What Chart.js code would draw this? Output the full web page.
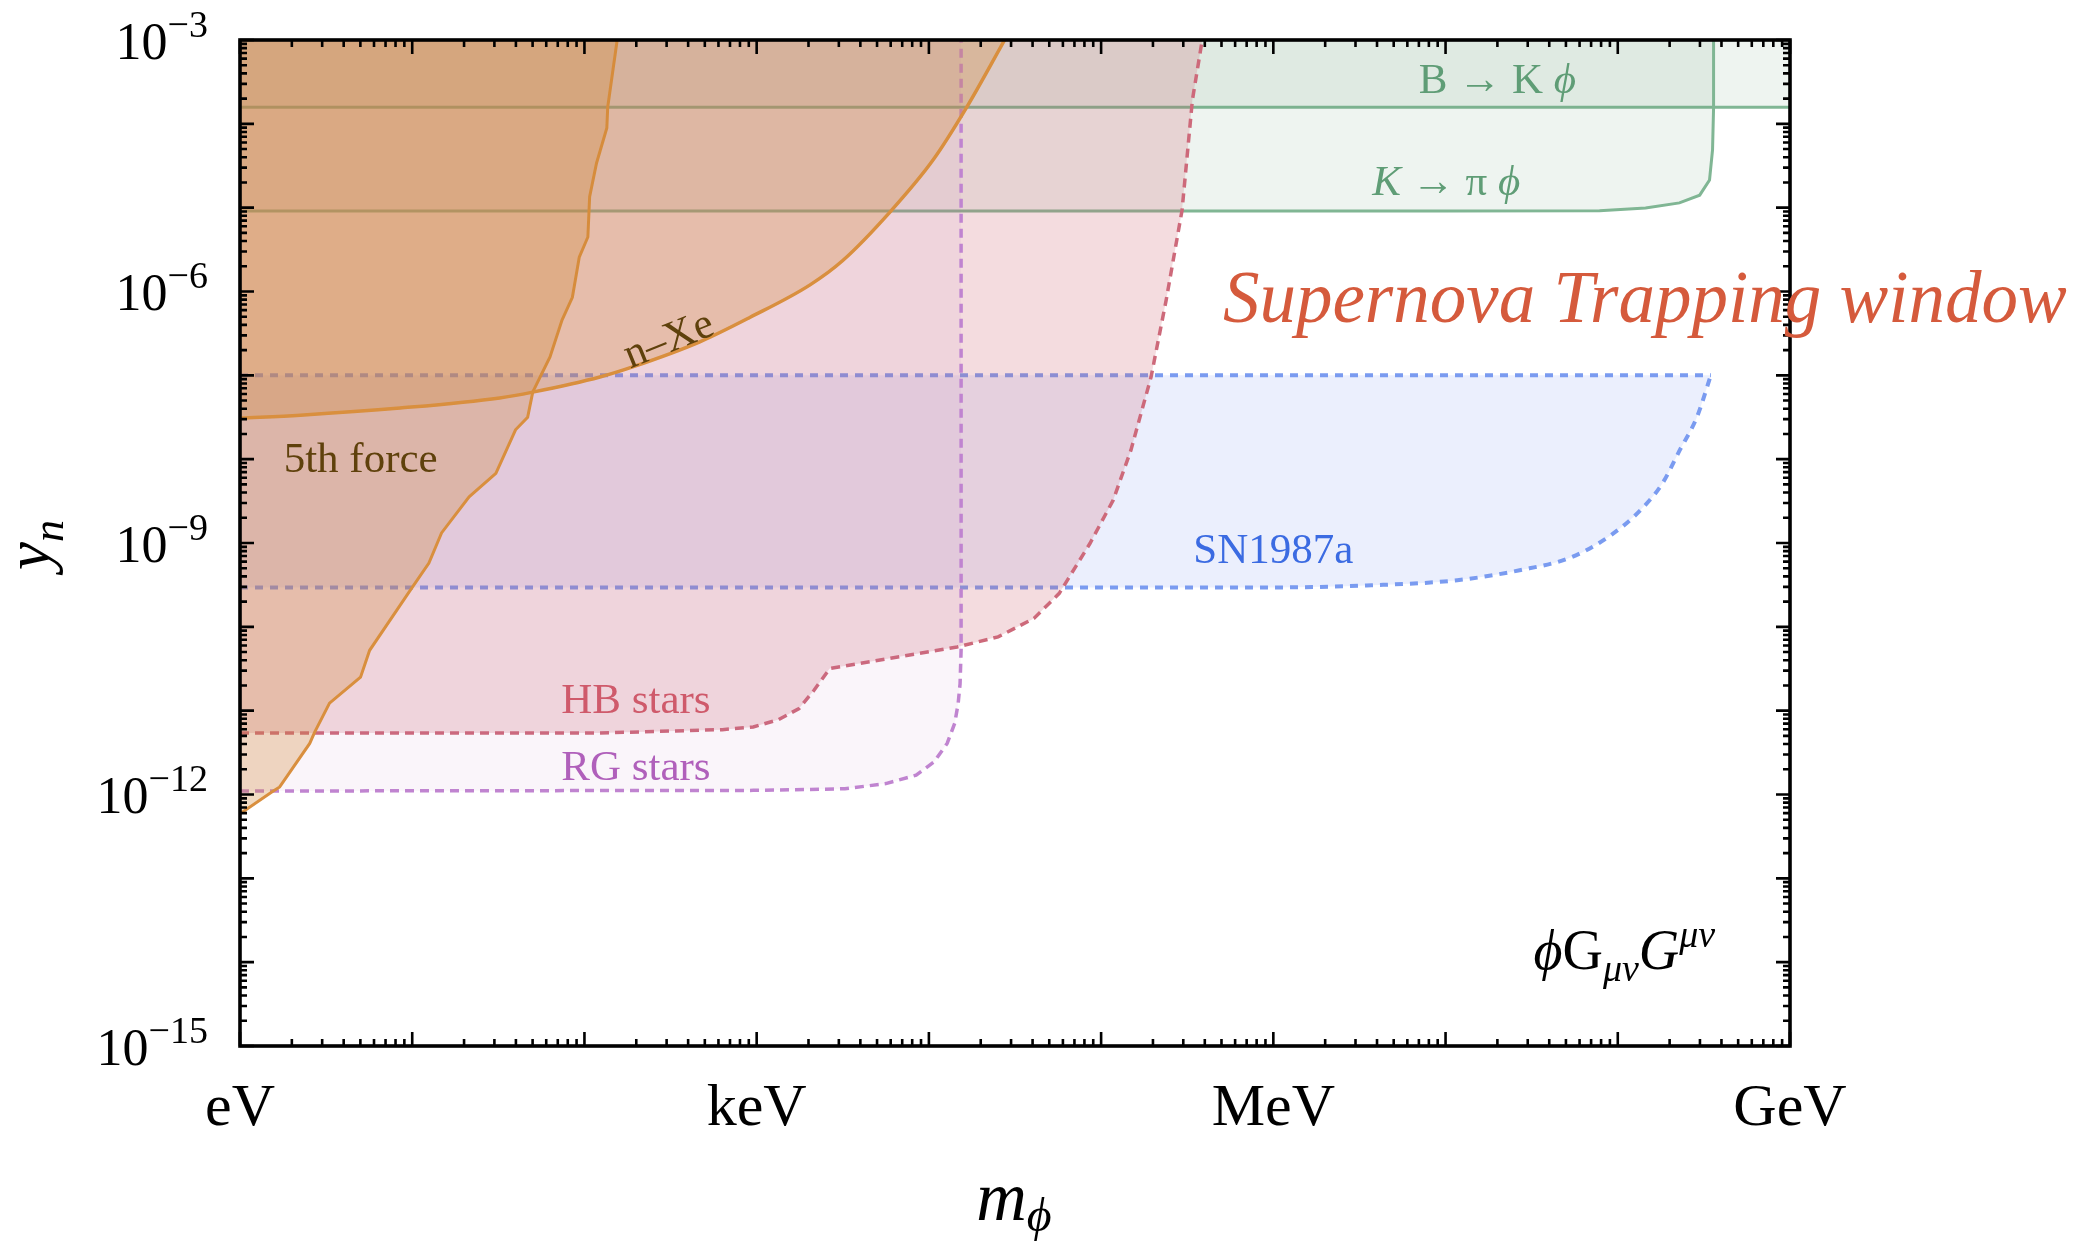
<!DOCTYPE html>
<html><head><meta charset="utf-8">
<script src="https://cdn.jsdelivr.net/npm/chart.js@4.4.1/dist/chart.umd.min.js"></script>
<style>html,body{margin:0;padding:0;background:#fff;}#wrap{width:2094px;height:1241px;position:relative;}</style>
</head><body><div id="wrap"><canvas id="c"></canvas></div>
<script>
// ---------- data (mass in eV, coupling y_n) ----------
const massRange = [1, 1e9];
const couplingRange = [1e-15, 1e-3];
const xTickValues = [1, 1e3, 1e6, 1e9];
const xTickLabels = ['eV', 'keV', 'MeV', 'GeV'];
const yTickValues = [1e-3, 1e-6, 1e-9, 1e-12, 1e-15];
const yTickLabels = ['\u22123', '\u22126', '\u22129', '\u221212', '\u221215'];

const fifthForceMass = [1, 1.53, 1.70, 2.54, 2.71, 3.31, 5.01, 5.66, 10.0, 12.5, 14.8, 21.4, 30.6, 39.8, 46.8, 50.1, 63.1, 74.1, 85.1, 93.3, 104.7, 107.2, 117.5, 134.9, 136.5, 154.9];
const fifthForceY = [5.9e-13, 1.07e-12, 1.23e-12, 4.07e-12, 5.5e-12, 1.23e-11, 2.51e-11, 5.25e-11, 2.95e-10, 5.75e-10, 1.32e-9, 3.55e-9, 6.76e-9, 2.24e-8, 3.16e-8, 6.31e-8, 1.66e-7, 4.57e-7, 8.51e-7, 2.57e-6, 4.47e-6, 1.35e-5, 3.39e-5, 8.91e-5, 1.58e-4, 1e-3];

const nXeMass = [1, 2.24, 8.51, 32.2, 50.1, 123, 190.5, 467.7, 912, 2042, 3162, 5957, 10593, 16596, 27542];
const nXeY = [3.09e-8, 3.35e-8, 4.07e-8, 5.37e-8, 6.31e-8, 9.55e-8, 1.26e-7, 2.51e-7, 4.90e-7, 1.20e-6, 2.34e-6, 8.91e-6, 3.72e-5, 1.58e-4, 1e-3];

const hbMass = [1, 123, 631, 955, 1340, 1762, 2153, 2655, 14588, 25235, 40738, 57148, 86099, 117490, 148936, 194984, 238781, 295121, 338844, 386367];
const hbY = [5.42e-12, 5.42e-12, 5.94e-12, 6.38e-12, 7.83e-12, 1.06e-11, 1.75e-11, 3.18e-11, 5.75e-11, 7.59e-11, 1.26e-10, 2.51e-10, 9.86e-10, 3.24e-9, 1.28e-8, 9.55e-8, 7.94e-7, 9.33e-6, 1.92e-4, 1e-3];

const rgMass = [1, 955, 3258, 5623, 8433, 10715, 12764, 14125, 14791, 15171, 15382, 15382];
const rgY = [1.10e-12, 1.12e-12, 1.17e-12, 1.35e-12, 1.70e-12, 2.45e-12, 4.07e-12, 7.08e-12, 1.22e-11, 2.09e-11, 5.25e-11, 1e-3];

const snMass = [1, 1.0e6, 3.72e6, 1.17e7, 2.69e7, 5.37e7, 9.12e7, 1.35e8, 1.82e8, 2.29e8, 2.88e8, 3.47e8];
const snLowerY = [2.94e-10, 2.95e-10, 3.13e-10, 3.60e-10, 4.73e-10, 6.76e-10, 1.24e-9, 2.45e-9, 5.18e-9, 1.28e-8, 3.17e-8, 1e-7];
const snUpperMass = [1, 3.47e8];
const snUpperY = [1e-7, 1e-7];

const kPiMass = [1, 1e7, 7.83e7, 1.45e8, 2.28e8, 2.99e8, 3.41e8, 3.55e8, 3.60e8, 3.60e8];
const kPiY = [9.12e-6, 9.12e-6, 9.18e-6, 9.89e-6, 1.14e-5, 1.41e-5, 2.14e-5, 4.90e-5, 1.58e-4, 1e-3];

const bKMass = [1, 1e9];
const bKY = [1.58e-4, 1.58e-4];

// region labels anchored in data coordinates
const regionLabels = [
  {key: '5th', x: 5.02, y: 7.0e-9},
  {key: 'nXe', x: 306, y: 2.78e-7},
  {key: 'HB', x: 199, y: 9.3e-12},
  {key: 'RG', x: 199, y: 1.48e-12},
  {key: 'SN', x: 1.0e6, y: 5.74e-10},
  {key: 'BK', x: 2.0e7, y: 2.33e-4},
  {key: 'KPi', x: 1.01e7, y: 1.41e-5},
  {key: 'SNT', x: 5.1e5, y: 4.3e-7},
  {key: 'GG', x: 3.24e7, y: 8.2e-15}
];

const pts = (xs, ys) => xs.map((v, i) => ({x: v, y: ys[i]}));
const F = 'Liberation Serif';

const base = {showLine: true, pointRadius: 0, pointHoverRadius: 0, tension: 0, borderWidth: 3.5};
const datasets = [
  Object.assign({}, base, {label: 'n-Xe', data: pts(nXeMass, nXeY), borderColor: 'rgb(217,143,62)', backgroundColor: 'rgba(210,135,55,0.30)', fill: 'end', cubicInterpolationMode: 'monotone'}),
  Object.assign({}, base, {label: '5th force', data: pts(fifthForceMass, fifthForceY), borderColor: 'rgb(217,143,62)', backgroundColor: 'rgba(210,135,55,0.30)', fill: 'end', borderWidth: 3}),
  Object.assign({}, base, {label: 'RG stars', data: pts(rgMass, rgY), borderColor: 'rgb(192,132,208)', backgroundColor: 'rgba(190,110,190,0.07)', fill: 'end', borderDash: [9, 6]}),
  Object.assign({}, base, {label: 'HB stars', data: pts(hbMass, hbY), borderColor: 'rgb(205,105,122)', backgroundColor: 'rgba(205,95,110,0.22)', fill: 'end', borderDash: [9, 6]}),
  Object.assign({}, base, {label: 'SN upper', data: pts(snUpperMass, snUpperY), borderColor: 'rgb(122,155,240)', fill: false, borderDash: [8, 7], borderWidth: 4}),
  Object.assign({}, base, {label: 'SN1987a', data: pts(snMass, snLowerY), borderColor: 'rgb(122,155,240)', backgroundColor: 'rgba(100,130,240,0.13)', fill: {value: 1e-7}, borderDash: [8, 7], borderWidth: 4, cubicInterpolationMode: 'monotone'}),
  Object.assign({}, base, {label: 'K to pi phi', data: pts(kPiMass, kPiY), borderColor: 'rgb(128,182,148)', backgroundColor: 'rgba(90,150,110,0.10)', fill: 'end', borderWidth: 3}),
  Object.assign({}, base, {label: 'B to K phi', data: pts(bKMass, bKY), borderColor: 'rgb(128,182,148)', backgroundColor: 'rgba(90,150,110,0.10)', fill: 'end', borderWidth: 3})
];

function runs(ctx, list, x, y, align) {
  let total = 0;
  list.forEach(r => { ctx.font = r[1]; r.w = ctx.measureText(r[0]).width + (r[3] || 0); total += r.w; });
  let cx = align === 'center' ? x - total / 2 : (align === 'right' ? x - total : x);
  ctx.textAlign = 'left'; ctx.textBaseline = 'alphabetic';
  list.forEach(r => { ctx.font = r[1]; ctx.fillText(r[0], cx, y + (r[2] || 0)); cx += r.w; });
}

const decor = {
  id: 'decor',
  afterDraw(chart) {
    const {ctx, chartArea: a, scales: {x, y}} = chart;
    ctx.save();
    // tick marks (inside, mirrored)
    ctx.strokeStyle = '#000'; ctx.lineWidth = 2.6; ctx.lineCap = 'butt';
    ctx.beginPath();
    const xd0 = Math.round(Math.log10(massRange[0])), xd1 = Math.round(Math.log10(massRange[1]));
    for (let k = xd0; k <= xd1; k++) {
      for (let m = 1; m <= 9; m++) {
        if (k === xd1 && m > 1) break;
        const px = x.getPixelForValue(m * Math.pow(10, k));
        const len = m === 1 ? 14 : 7;
        ctx.moveTo(px, a.bottom); ctx.lineTo(px, a.bottom - len);
        ctx.moveTo(px, a.top); ctx.lineTo(px, a.top + len);
      }
    }
    const yd0 = Math.round(Math.log10(couplingRange[0])), yd1 = Math.round(Math.log10(couplingRange[1]));
    for (let k = yd0; k <= yd1; k++) {
      for (let m = 1; m <= 9; m++) {
        if (k === yd1 && m > 1) break;
        const py = y.getPixelForValue(m * Math.pow(10, k));
        const len = m === 1 ? 14 : 7;
        ctx.moveTo(a.left, py); ctx.lineTo(a.left + len, py);
        ctx.moveTo(a.right, py); ctx.lineTo(a.right - len, py);
      }
    }
    ctx.stroke();
    // frame
    ctx.lineWidth = 3.6;
    ctx.strokeRect(a.left, a.top, a.right - a.left, a.bottom - a.top);

    // tick labels
    ctx.fillStyle = '#000';
    yTickValues.forEach((v, i) => {
      const py = y.getPixelForValue(v);
      runs(ctx, [['10', `52px "${F}"`, 0], [yTickLabels[i], `38px "${F}"`, -22]], a.left - 32, py + 18.5, 'right');
    });
    xTickValues.forEach((v, i) => {
      const px = x.getPixelForValue(v);
      runs(ctx, [[xTickLabels[i], `60px "${F}"`, 0]], px, a.bottom + 79, 'center');
    });

    // axis titles
    ctx.save();
    ctx.translate(49, (a.top + a.bottom) / 2 + 2);
    ctx.rotate(-Math.PI / 2);
    runs(ctx, [['y', `italic 63px "${F}"`, 0], ['n', `italic 44px "${F}"`, 14]], 0, 0, 'center');
    ctx.restore();
    runs(ctx, [['m', `italic 70px "${F}"`, 0], ['\u03D5', `italic 48px "${F}"`, 11]], (a.left + a.right) / 2 - 1, 1220, 'center');

    // region labels
    const L = {};
    regionLabels.forEach(r => { L[r.key] = [x.getPixelForValue(r.x), y.getPixelForValue(r.y)]; });
    const brown = '#5f410c';
    ctx.fillStyle = brown;
    runs(ctx, [['5th force', `43px "${F}"`]], L['5th'][0], L['5th'][1], 'center');
    ctx.save();
    ctx.translate(L.nXe[0], L.nXe[1]);
    ctx.rotate(-22 * Math.PI / 180);
    runs(ctx, [['n\u2013Xe', `43px "${F}"`]], 0, 14, 'center');
    ctx.restore();
    ctx.fillStyle = '#cf5a6b';
    runs(ctx, [['HB stars', `43px "${F}"`]], L.HB[0], L.HB[1], 'center');
    ctx.fillStyle = '#b060bb';
    runs(ctx, [['RG stars', `43px "${F}"`]], L.RG[0], L.RG[1], 'center');
    ctx.fillStyle = '#3b6be2';
    runs(ctx, [['SN1987a', `43px "${F}"`]], L.SN[0], L.SN[1], 'center');
    ctx.fillStyle = '#5f9d76';
    runs(ctx, [['B \u2192 K ', `43px "${F}"`], ['\u03D5', `italic 43px "${F}"`]], L.BK[0], L.BK[1], 'center');
    runs(ctx, [['K', `italic 43px "${F}"`], [' \u2192 \u03C0 ', `43px "${F}"`], ['\u03D5', `italic 43px "${F}"`]], L.KPi[0], L.KPi[1], 'center');
    ctx.fillStyle = '#000';
    runs(ctx, [['\u03D5', `italic 56px "${F}"`], ['G', `56px "${F}"`], ['\u03BC\u03BD', `italic 38px "${F}"`, 12], ['G', `italic 56px "${F}"`], ['\u03BC\u03BD', `italic 38px "${F}"`, -22]], L.GG[0], L.GG[1], 'left');
    ctx.fillStyle = '#d55a3c';
    runs(ctx, [['Supernova Trapping window', `italic 73px "${F}"`]], L.SNT[0], L.SNT[1], 'left');
    ctx.restore();
  }
};

new Chart(document.getElementById('c'), {
  type: 'scatter',
  data: {datasets},
  options: {
    responsive: true, maintainAspectRatio: false, animation: false, events: [],
    devicePixelRatio: 1,
    layout: {padding: {left: 0, top: 40, right: 304, bottom: 0}},
    plugins: {legend: {display: false}, tooltip: {enabled: false}, filler: {propagate: false}},
    scales: {
      x: {type: 'logarithmic', position: 'bottom', min: massRange[0], max: massRange[1],
          grid: {display: false}, border: {display: false}, ticks: {display: false},
          afterBuildTicks: s => { s.ticks = xTickValues.map(v => ({value: v})); },
          afterFit: s => { s.height = 195; }},
      y: {type: 'logarithmic', position: 'left', min: couplingRange[0], max: couplingRange[1],
          grid: {display: false}, border: {display: false}, ticks: {display: false},
          afterBuildTicks: s => { s.ticks = yTickValues.map(v => ({value: v})); },
          afterFit: s => { s.width = 240; }}
    }
  },
  plugins: [decor]
});
</script>
</body></html>
